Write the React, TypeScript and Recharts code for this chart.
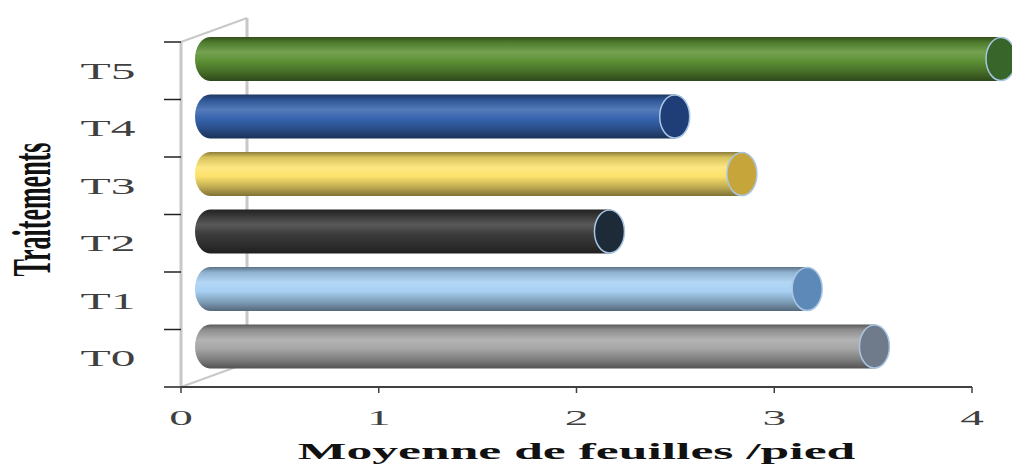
import { BarChart, Bar, XAxis, YAxis, CartesianGrid } from 'recharts'

const categories = ['T0', 'T1', 'T2', 'T3', 'T4', 'T5']
const moyennes = [3.36, 3.02, 2.02, 2.69, 2.35, 4.0]
const xTicks = [0, 1, 2, 3, 4]

const data = categories.map((name, i) => ({ name, value: moyennes[i] }))

// body colour + end face colour, same order as categories
const palette = [
  { base: '#a6a6a6', face: '#6f7a8a' },
  { base: '#a7d0f3', face: '#5d89b8' },
  { base: '#3d3d3d', face: '#1d2a38' },
  { base: '#fde36c', face: '#c6a63a' },
  { base: '#3664ae', face: '#1f3d76' },
  { base: '#5c9034', face: '#37652a' },
]

const SX = 2.15 // the picture is stretched sideways
const SERIF = '"Liberation Serif", "Times New Roman", serif'
const BAR_DX = 29
const BAR_DY = -12
const WALL_DX = 66
const WALL_DY = -24
const RX = 15

function shade(hex: string, f: number): string {
  const n = parseInt(hex.slice(1), 16)
  const ch = [(n >> 16) & 255, (n >> 8) & 255, n & 255].map(c =>
    Math.round(f <= 1 ? c * f : c + (255 - c) * (f - 1))
  )
  return '#' + ch.map(c => Math.max(0, Math.min(255, c)).toString(16).padStart(2, '0')).join('')
}

function Cylinder(props: any) {
  const { x, y, width, height, index } = props
  const { base, face } = palette[index]
  const ry = height / 2
  const cy = y + ry + BAR_DY
  const x0 = x + BAR_DX
  const x1 = x + width + BAR_DX
  const id = `cyl-grad-${index}`
  const d = `M${x0},${cy - ry} L${x1},${cy - ry} A${RX},${ry} 0 0 1 ${x1},${cy + ry} L${x0},${cy + ry} A${RX},${ry} 0 0 1 ${x0},${cy - ry} Z`
  return (
    <g>
      <defs>
        <linearGradient id={id} x1="0" y1="0" x2="0" y2="1">
          <stop offset="0" stopColor={shade(base, 0.55)} />
          <stop offset="0.12" stopColor={shade(base, 0.85)} />
          <stop offset="0.35" stopColor={shade(base, 1.15)} />
          <stop offset="0.55" stopColor={base} />
          <stop offset="0.8" stopColor={shade(base, 0.75)} />
          <stop offset="1" stopColor={shade(base, 0.5)} />
        </linearGradient>
      </defs>
      <path d={d} fill={`url(#${id})`} />
      <ellipse cx={x1} cy={cy} rx={RX} ry={ry - 0.5} fill={face} stroke="#a9c6e4" strokeWidth={1.5} />
    </g>
  )
}

// 3D side wall, drawn from the first vertical grid line (value 0) so it sits behind the bars
function Walls(props: any) {
  const { x1, y1, y2, index } = props
  if (index !== 0) return <g />
  const top = Math.min(y1, y2)
  const bottom = Math.max(y1, y2)
  const step = (bottom - top) / categories.length
  const marks = categories.map((_, i) => top + i * step).concat([bottom])
  return (
    <g>
      <line x1={x1 + WALL_DX} y1={top + WALL_DY} x2={x1 + WALL_DX} y2={bottom + WALL_DY} stroke="#c8c8c8" strokeWidth={3} />
      <line x1={x1} y1={top} x2={x1 + WALL_DX} y2={top + WALL_DY} stroke="#c8c8c8" strokeWidth={2} />
      <line x1={x1} y1={bottom} x2={x1 + WALL_DX} y2={bottom + WALL_DY} stroke="#c8c8c8" strokeWidth={2} />
      <line x1={x1} y1={top} x2={x1} y2={bottom} stroke="#c8c8c8" strokeWidth={3} />
      {marks.map(m => (
        <line key={m} x1={x1 - 17} y1={m} x2={x1} y2={m} stroke="#222" strokeWidth={1.5} />
      ))}
    </g>
  )
}

function YTick(props: any) {
  const { x, y, payload } = props
  return (
    <text transform={`translate(${x - 65},${y + 8}) scale(${SX},1)`} textAnchor="middle"
      fontFamily={SERIF} fontSize={23} fill="#404040">{payload.value}</text>
  )
}

function XTick(props: any) {
  const { x, y, payload } = props
  return (
    <text transform={`translate(${x},${y + 30}) scale(${SX},1)`} textAnchor="middle"
      fontFamily={SERIF} fontSize={22} fill="#404040">{payload.value}</text>
  )
}

function XTitle(props: any) {
  const vb = props.viewBox
  return (
    <text transform={`translate(${vb.x + vb.width / 2},${vb.y + 72}) scale(${SX},1)`} textAnchor="middle"
      fontFamily={SERIF} fontSize={24} fontWeight={700} fill="#111">Moyenne de feuilles /pied</text>
  )
}

function YTitle(props: any) {
  const vb = props.viewBox
  return (
    <text transform={`translate(${vb.x + 50},${vb.y + vb.height / 2 - 5}) scale(${SX},1) rotate(-90)`} textAnchor="middle"
      fontFamily={SERIF} fontSize={26} fontWeight={700} fill="#111">Traitements</text>
  )
}

export default function App() {
  return (
    <div style={{ position: 'absolute', left: 0, top: 0, width: 1012, height: 464, background: '#fff' }}>
      <BarChart width={1012} height={464} data={data} layout="vertical"
        margin={{ top: 42, right: 40, bottom: 0, left: 0 }}>
        <CartesianGrid horizontal={false} vertical={(p: any) => <Walls key={p.key ?? p.index} {...p} />} />
        <XAxis type="number" domain={[0, 4]} ticks={xTicks} height={77}
          axisLine={{ stroke: '#404040', strokeWidth: 2 }} tickLine={{ stroke: '#404040', strokeWidth: 1.5 }}
          tick={<XTick />} label={<XTitle />} />
        <YAxis type="category" dataKey="name" reversed width={181}
          axisLine={false} tickLine={false} tick={<YTick />} label={<YTitle />} />
        <Bar dataKey="value" barSize={44} shape={(p: any) => <Cylinder {...p} />} isAnimationActive={false} />
      </BarChart>
    </div>
  )
}
